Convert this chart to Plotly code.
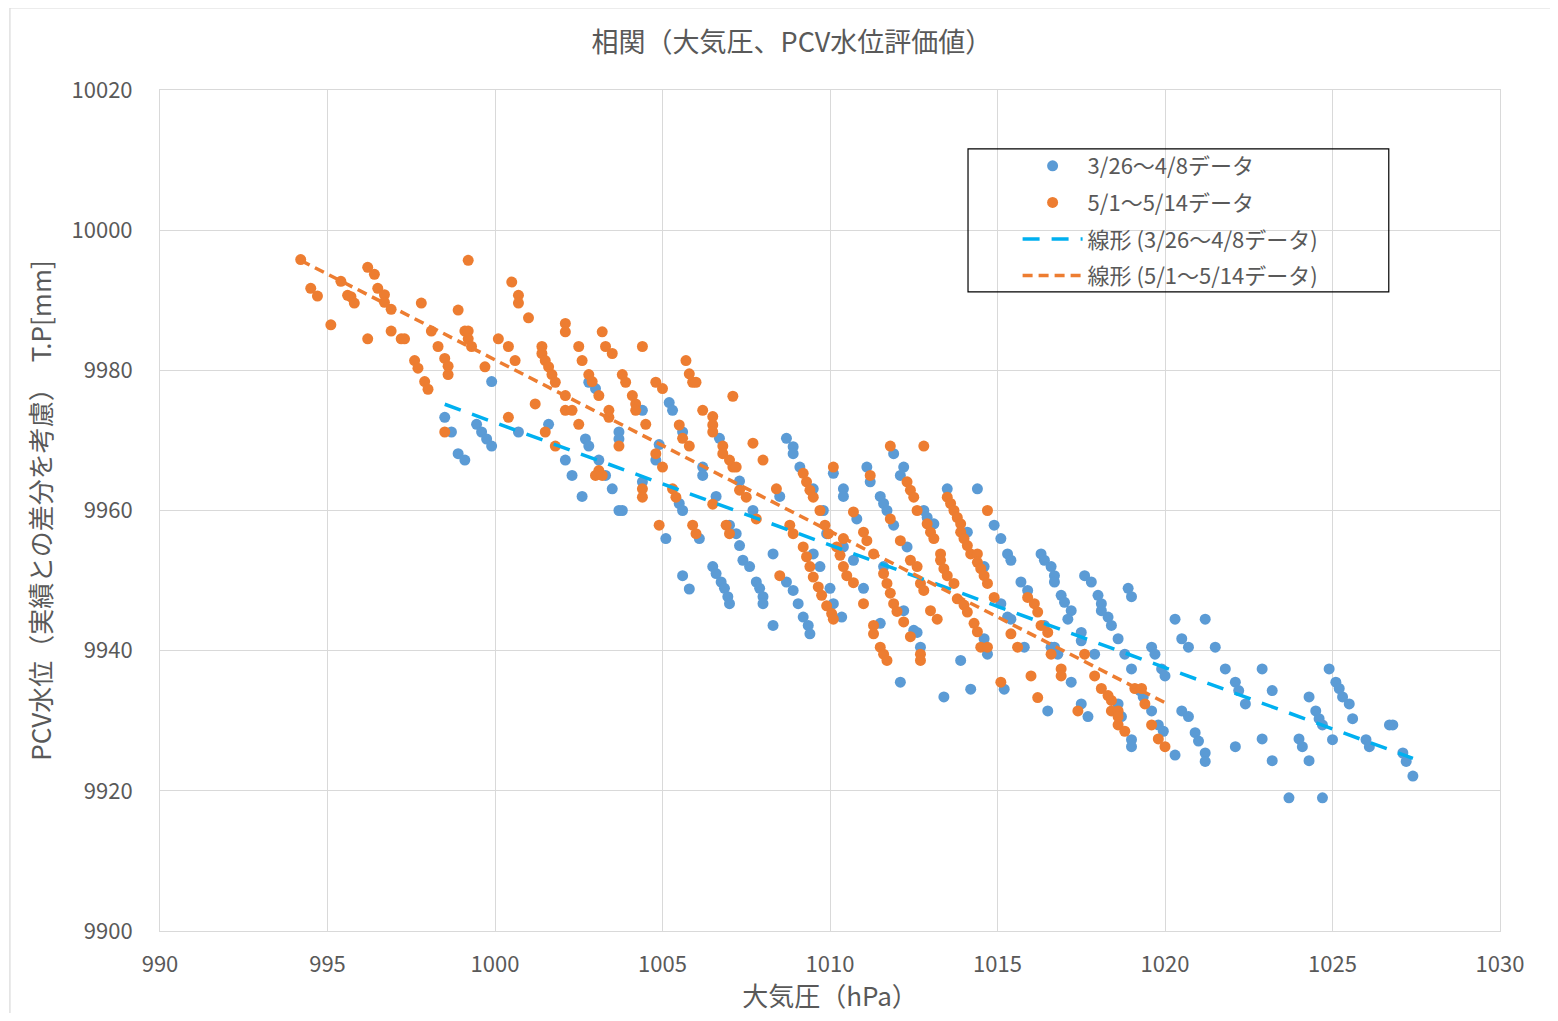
"""相関（大気圧、PCV水位評価値）の散布図と線形近似線。"""
import numpy as np
import plotly.graph_objects as go

BLUE = "#5B9BD5"
ORANGE = "#ED7D31"
TREND_BLUE = "#00B0F0"
GRID = "#D9D9D9"
TEXT = "#595959"
FONT = "Noto Sans CJK JP, Noto Sans, sans-serif"

# 3/26～4/8データ（大気圧 hPa, PCV水位 mm）
blue_x = [
    999.9, 998.5, 998.7, 998.9, 999.1, 999.45, 999.6, 999.75, 999.9, 1000.7,
    1001.6, 1002.1, 1002.3, 1002.6, 1002.7, 1002.8, 1002.8, 1003.0, 1003.1, 1003.3,
    1003.5, 1003.7, 1003.7, 1003.7, 1003.8, 1004.4, 1004.4, 1004.9, 1004.8, 1005.2,
    1005.3, 1005.6, 1006.2, 1006.2, 1005.1, 1005.6, 1005.8, 1005.5, 1005.6, 1006.1,
    1006.6, 1006.7, 1007.3, 1007.7, 1008.5, 1006.5, 1006.6, 1006.75, 1006.85, 1006.95,
    1007.0, 1007.0, 1007.2, 1007.3, 1007.4, 1007.6, 1007.8, 1007.9, 1008.0, 1008.0,
    1008.3, 1008.3, 1008.7, 1008.9, 1008.9, 1009.1, 1009.5, 1008.7, 1008.9, 1009.05,
    1009.2, 1009.35, 1009.4, 1009.5, 1009.7, 1009.8, 1010.0, 1010.1, 1010.35, 1009.9,
    1010.1, 1010.4, 1010.4, 1010.8, 1010.7, 1011.0, 1011.1, 1011.2, 1011.5, 1011.6,
    1011.7, 1011.9, 1012.3, 1011.6, 1012.2, 1012.1, 1011.9, 1012.5, 1011.5, 1012.2,
    1013.5, 1014.4, 1012.8, 1012.9, 1013.1, 1010.4, 1014.1, 1014.6, 1014.9, 1015.1,
    1015.3, 1015.4, 1015.7, 1015.9, 1015.1, 1015.3, 1015.4, 1016.3, 1016.4, 1016.6,
    1016.7, 1016.7, 1016.9, 1017.0, 1017.2, 1017.1, 1017.6, 1017.8, 1018.0, 1018.1,
    1018.3, 1018.4, 1018.9, 1019.0, 1016.4, 1017.5, 1017.5, 1017.9, 1016.7, 1016.8,
    1015.8, 1016.6, 1012.7, 1012.6, 1014.6, 1014.7, 1013.9, 1012.1, 1013.4, 1014.2,
    1015.2, 1017.2, 1016.5, 1017.5, 1017.7, 1018.6, 1018.8, 1019.0, 1019.6, 1019.7,
    1019.9, 1020.0, 1019.25, 1019.35, 1019.6, 1018.6, 1018.7, 1020.3, 1021.2, 1020.5,
    1020.7, 1021.5, 1020.5, 1020.7, 1018.1, 1021.8, 1022.1, 1022.2, 1022.4, 1022.9,
    1023.2, 1024.9, 1025.1, 1025.2, 1025.3, 1025.5, 1025.6, 1024.3, 1024.5, 1024.6,
    1024.7, 1025.0, 1026.7, 1026.8, 1026.0, 1026.1, 1027.1, 1027.2, 1027.4, 1020.9,
    1021.0, 1021.2, 1021.2, 1022.1, 1022.9, 1023.2, 1024.0, 1024.1, 1024.3, 1023.7,
    1024.7, 1019.8, 1019.95, 1019.0, 1019.0, 1020.3,
]
blue_y = [
    9978.4, 9973.3, 9971.2, 9968.1, 9967.2, 9972.3, 9971.2, 9970.2, 9969.2, 9971.2,
    9972.3, 9967.2, 9965.0, 9962.0, 9970.2, 9969.2, 9978.3, 9977.4, 9967.2, 9965.0,
    9963.1, 9971.2, 9970.2, 9960.0, 9960.0, 9974.3, 9964.1, 9969.4, 9967.2, 9975.4,
    9974.3, 9971.2, 9966.2, 9965.0, 9956.0, 9950.7, 9948.8, 9961.0, 9960.0, 9956.0,
    9962.0, 9970.3, 9964.2, 9960.0, 9962.0, 9952.0, 9951.0, 9949.8, 9948.9, 9947.7,
    9946.7, 9957.9, 9956.7, 9955.0, 9952.9, 9952.0, 9949.8, 9948.9, 9947.7, 9946.7,
    9953.8, 9943.6, 9970.3, 9969.1, 9968.1, 9966.2, 9963.1, 9949.8, 9948.6, 9946.7,
    9944.8, 9943.6, 9942.4, 9953.8, 9952.0, 9960.0, 9948.9, 9946.7, 9944.8, 9956.7,
    9965.3, 9963.1, 9962.0, 9958.8, 9952.9, 9948.9, 9966.2, 9964.1, 9962.0, 9961.0,
    9960.0, 9957.9, 9954.8, 9952.0, 9966.2, 9965.0, 9968.1, 9942.9, 9943.9, 9945.7,
    9963.1, 9963.1, 9960.0, 9959.0, 9958.1, 9954.8, 9956.9, 9952.0, 9957.9, 9956.0,
    9953.8, 9952.9, 9949.8, 9948.6, 9946.7, 9944.8, 9944.5, 9953.8, 9952.9, 9952.0,
    9950.7, 9949.8, 9947.9, 9946.9, 9945.7, 9944.5, 9950.7, 9949.8, 9947.9, 9946.7,
    9944.8, 9943.6, 9948.9, 9947.7, 9943.6, 9942.6, 9941.4, 9939.5, 9940.5, 9939.5,
    9940.5, 9940.5, 9940.5, 9942.6, 9941.7, 9939.5, 9938.6, 9935.5, 9933.4, 9934.5,
    9934.5, 9935.5, 9931.4, 9932.4, 9930.6, 9941.7, 9939.5, 9937.4, 9940.5, 9939.5,
    9937.4, 9936.4, 9934.3, 9933.4, 9931.4, 9932.4, 9930.6, 9944.5, 9944.5, 9941.7,
    9940.5, 9940.5, 9931.4, 9930.6, 9945.7, 9937.4, 9935.5, 9934.3, 9932.4, 9937.4,
    9934.3, 9937.4, 9935.5, 9934.6, 9933.4, 9932.4, 9930.3, 9933.4, 9931.4, 9930.3,
    9929.4, 9927.3, 9929.4, 9929.4, 9927.3, 9926.3, 9925.4, 9924.2, 9922.1, 9928.3,
    9927.1, 9925.4, 9924.2, 9926.3, 9927.4, 9924.3, 9927.4, 9926.3, 9924.3, 9919.0,
    9919.0, 9929.4, 9928.5, 9927.3, 9926.3, 9925.1,
]

# 5/1～5/14データ
orange_x = [
    994.2, 994.5, 994.7, 995.1, 995.4, 995.6, 995.7, 995.8, 996.2, 996.4,
    996.5, 996.7, 996.7, 996.9, 996.2, 996.9, 997.2, 997.3, 997.6, 997.7,
    997.8, 997.9, 998.0, 998.1, 998.3, 998.5, 998.6, 998.6, 998.9, 999.1,
    999.2, 999.2, 999.3, 999.2, 999.7, 998.5, 1000.1, 1000.4, 1000.6, 1000.5,
    1000.7, 1000.7, 1001.0, 1000.4, 1001.2, 1001.4, 1001.4, 1001.5, 1001.6, 1001.7,
    1001.8, 1001.5, 1001.8, 1002.1, 1002.1, 1002.1, 1002.1, 1002.3, 1002.5, 1002.6,
    1002.5, 1002.8, 1002.9, 1003.1, 1003.4, 1003.4, 1003.2, 1003.3, 1003.5, 1003.8,
    1003.9, 1004.1, 1004.2, 1004.2, 1004.5, 1004.4, 1004.8, 1003.7, 1003.1, 1003.0,
    1003.2, 1004.4, 1004.4, 1004.8, 1005.0, 1005.7, 1005.8, 1005.9, 1006.0, 1007.1,
    1006.2, 1006.5, 1006.5, 1006.5, 1005.5, 1005.6, 1005.8, 1005.0, 1006.8, 1006.8,
    1007.0, 1007.1, 1007.2, 1007.7, 1008.0, 1005.3, 1005.4, 1006.5, 1007.3, 1007.5,
    1008.4, 1004.9, 1005.9, 1006.0, 1006.9, 1007.0, 1007.8, 1008.5, 1008.8, 1008.9,
    1009.2, 1009.3, 1009.4, 1009.5, 1009.7, 1009.85, 1009.95, 1010.1, 1009.2, 1009.3,
    1009.4, 1009.5, 1009.65, 1009.75, 1009.9, 1010.05, 1010.1, 1010.2, 1010.3, 1010.4,
    1010.5, 1010.7, 1010.7, 1011.0, 1011.1, 1011.3, 1011.0, 1011.3, 1011.3, 1011.2,
    1011.8, 1011.8, 1012.1, 1012.3, 1012.4, 1012.4, 1012.6, 1011.6, 1011.7, 1011.8,
    1011.9, 1012.0, 1012.2, 1012.4, 1012.6, 1012.8, 1012.5, 1012.9, 1013.0, 1013.1,
    1013.5, 1013.6, 1013.7, 1013.8, 1013.9, 1013.9, 1014.0, 1014.1, 1014.2, 1014.4,
    1014.4, 1014.5, 1014.6, 1014.7, 1014.7, 1010.4, 1012.7, 1012.8, 1011.5, 1011.6,
    1011.7, 1012.7, 1012.7, 1013.0, 1013.2, 1013.3, 1013.3, 1013.4, 1013.5, 1013.7,
    1013.8, 1014.0, 1014.1, 1014.3, 1014.4, 1014.5, 1014.7, 1014.9, 1015.1, 1015.4,
    1015.6, 1015.9, 1016.1, 1016.2, 1016.3, 1016.5, 1016.6, 1016.0, 1016.2, 1016.9,
    1016.9, 1017.6, 1017.9, 1018.1, 1018.3, 1018.4, 1018.4, 1018.6, 1017.4, 1019.1,
    1019.3, 1019.4, 1018.6, 1018.6, 1018.8, 1019.6, 1019.8, 1020.0,
]
orange_y = [
    9995.8, 9991.7, 9990.6, 9986.5, 9992.7, 9990.7, 9990.5, 9989.6, 9994.7, 9993.7,
    9991.7, 9990.8, 9989.7, 9988.7, 9984.5, 9985.6, 9984.5, 9984.5, 9981.4, 9980.3,
    9989.6, 9978.4, 9977.3, 9985.6, 9983.4, 9981.7, 9980.6, 9979.4, 9988.6, 9985.6,
    9985.6, 9984.5, 9983.4, 9995.7, 9980.5, 9971.2, 9984.5, 9983.4, 9981.4, 9992.6,
    9990.7, 9989.6, 9987.5, 9973.3, 9975.2, 9983.4, 9982.4, 9981.4, 9980.5, 9979.4,
    9978.3, 9971.2, 9969.2, 9986.7, 9985.5, 9976.4, 9974.3, 9974.3, 9983.4, 9981.4,
    9972.3, 9979.4, 9978.4, 9976.4, 9974.3, 9973.3, 9985.5, 9983.4, 9982.4, 9979.4,
    9978.3, 9976.4, 9975.2, 9974.3, 9972.3, 9983.4, 9978.3, 9969.2, 9965.7, 9965.0,
    9965.0, 9963.1, 9961.9, 9968.1, 9977.4, 9981.4, 9979.5, 9978.3, 9978.3, 9976.3,
    9974.3, 9973.4, 9972.2, 9971.2, 9972.2, 9970.3, 9969.2, 9966.2, 9969.2, 9968.1,
    9967.2, 9966.2, 9966.2, 9969.6, 9967.2, 9963.1, 9961.9, 9960.9, 9962.9, 9961.9,
    9963.1, 9957.9, 9957.9, 9956.7, 9957.9, 9956.7, 9958.8, 9950.7, 9957.9, 9956.7,
    9965.3, 9964.1, 9962.9, 9961.9, 9960.0, 9957.9, 9956.7, 9966.2, 9954.8, 9953.4,
    9952.0, 9950.5, 9949.1, 9947.9, 9946.4, 9945.3, 9944.5, 9954.8, 9953.6, 9952.0,
    9950.7, 9949.7, 9959.8, 9956.9, 9955.7, 9953.8, 9946.7, 9943.6, 9942.4, 9965.0,
    9969.2, 9958.8, 9955.7, 9964.1, 9962.9, 9952.9, 9952.0, 9951.0, 9949.6, 9948.2,
    9946.7, 9945.6, 9944.1, 9942.0, 9960.0, 9969.2, 9961.9, 9958.1, 9956.9, 9956.0,
    9961.9, 9961.0, 9960.0, 9959.0, 9958.1, 9956.9, 9956.0, 9955.0, 9953.8, 9953.8,
    9952.6, 9951.7, 9950.7, 9949.6, 9960.0, 9956.0, 9949.6, 9948.6, 9940.5, 9939.5,
    9938.6, 9939.5, 9938.6, 9945.7, 9944.5, 9953.8, 9952.9, 9951.7, 9950.7, 9949.6,
    9947.4, 9946.5, 9945.5, 9943.9, 9942.7, 9940.5, 9940.5, 9947.6, 9935.5, 9942.4,
    9940.5, 9947.6, 9946.7, 9945.5, 9943.6, 9942.6, 9939.5, 9936.4, 9933.3, 9937.4,
    9936.4, 9939.5, 9936.4, 9934.6, 9933.6, 9932.9, 9931.4, 9931.4, 9931.4, 9934.6,
    9934.6, 9932.4, 9930.6, 9929.4, 9928.5, 9929.4, 9927.4, 9926.3,
]

# 線形近似（傾き, x=1000hPa での値）: 図から読み取った値
blue_trend = [-1.748, 9972.54]
orange_trend = [-2.446, 9981.5]

x_ticks = [990, 995, 1000, 1005, 1010, 1015, 1020, 1025, 1030]
y_ticks = [9900, 9920, 9940, 9960, 9980, 10000, 10020]


def trend_line(xs, coef):
    """データの最小～最大の範囲で近似直線を引く。"""
    xr = np.array([min(xs), max(xs)])
    return xr, coef[0] * (xr - 1000) + coef[1]


bx, by = trend_line(blue_x, blue_trend)
ox, oy = trend_line(orange_x, orange_trend)

fig = go.Figure()
fig.add_trace(go.Scatter(x=blue_x, y=blue_y, mode="markers", name="3/26～4/8データ",
                         legendgroup="a", marker=dict(color=BLUE, size=11)))
fig.add_trace(go.Scatter(x=orange_x, y=orange_y, mode="markers", name="5/1～5/14データ",
                         legendgroup="b", marker=dict(color=ORANGE, size=11)))
fig.add_trace(go.Scatter(x=bx, y=by, mode="lines", name="線形 (3/26～4/8データ)",
                         legendgroup="c", line=dict(color=TREND_BLUE, width=3.5, dash="17px,12px")))
fig.add_trace(go.Scatter(x=ox, y=oy, mode="lines", name="線形 (5/1～5/14データ)",
                         legendgroup="d", line=dict(color=ORANGE, width=3.5, dash="10px,6px")))

# ページ余白 8px を差し引いた大きさで描く
fig.update_layout(
    width=1542, height=1005,
    margin=dict(l=152, r=50, t=82, b=82),
    plot_bgcolor="white", paper_bgcolor="white",
    font=dict(family=FONT, size=22, color=TEXT),
    title=dict(text="相関（大気圧、PCV水位評価値）", xref="paper", x=0.4716, xanchor="center",
               y=1 - 35 / 1005, yanchor="middle", font=dict(size=27, color=TEXT)),
    showlegend=True,
    legend=dict(x=0.640, y=0.9346, xanchor="left", yanchor="top", bgcolor="rgba(0,0,0,0)",
                borderwidth=0, font=dict(size=22, color=TEXT), tracegroupgap=5,
                itemwidth=60),
    shapes=[
        dict(type="rect", xref="paper", yref="paper", x0=0.603, x1=0.917, y0=0.760, y1=0.930,
             line=dict(color="black", width=1.2), fillcolor="rgba(0,0,0,0)", layer="above"),
        dict(type="rect", xref="paper", yref="paper", x0=-0.112, x1=1.1, y0=-0.2, y1=1.0975,
             line=dict(color=GRID, width=1.2), fillcolor="rgba(0,0,0,0)", layer="below"),
    ],
)
fig.update_xaxes(range=[990, 1030], tickvals=x_ticks, tickformat="d", showgrid=True,
                 gridcolor=GRID, gridwidth=1.2, showline=True, linecolor=GRID, mirror=True,
                 zeroline=False, ticks="", ticklabelstandoff=14, automargin=False,
                 title=dict(text="大気圧（hPa）", font=dict(size=26, color=TEXT), standoff=22))
fig.update_yaxes(range=[9900, 10020], tickvals=y_ticks, tickformat="d", showgrid=True,
                 gridcolor=GRID, gridwidth=1.2, showline=True, linecolor=GRID, mirror=True,
                 zeroline=False, ticks="", ticklabelstandoff=22, automargin=False,
                 title=dict(text="PCV水位（実績との差分を考慮）　T.P[mm]",
                            font=dict(size=26, color=TEXT), standoff=12))

fig.write_html("out.html")
